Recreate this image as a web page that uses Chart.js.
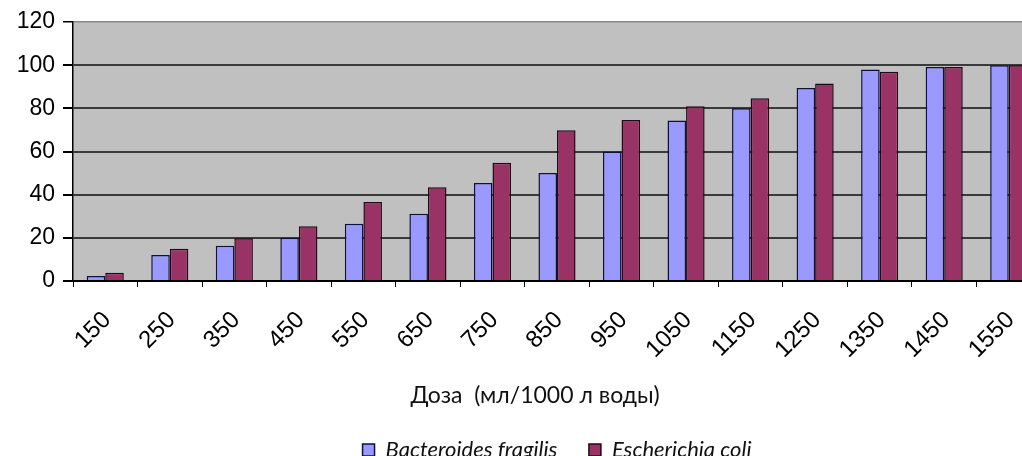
<!DOCTYPE html>
<html>
<head>
<meta charset="utf-8">
<script src="https://cdn.jsdelivr.net/npm/chart.js@4.4.0/dist/chart.umd.min.js"></script>
<style>
  html, body { margin: 0; padding: 0; background: #fff; overflow: hidden; }
</style>
</head>
<body>
<canvas id="chart" width="1070" height="471"></canvas>
<script>
// Dose, ml per 1000 l of water
const doses = ['150', '250', '350', '450', '550', '650', '750', '850', '950', '1050', '1150', '1250', '1350', '1450', '1550'];
const bacteroides = [2.3, 12, 16.3, 20, 26.5, 31.2, 45.4, 50, 60, 74.4, 80, 89.4, 98, 99.2, 100];
const ecoli = [3.8, 15, 19.8, 25.4, 36.6, 43.4, 54.8, 69.8, 74.6, 81, 84.7, 91.5, 96.9, 99.2, 100];
const yMin = 0;
const yMax = 120;
const yStep = 20;

// grey plot area like the old Excel charts
const plotBackground = {
  id: 'plotBackground',
  beforeDraw(chart) {
    const { ctx, chartArea: a } = chart;
    ctx.save();
    ctx.fillStyle = '#c0c0c0';
    ctx.fillRect(a.left, a.top, a.right - a.left, a.bottom - a.top);
    ctx.restore();
  }
};

const ctx = document.getElementById('chart').getContext('2d');

new Chart(ctx, {
  type: 'bar',
  data: {
    labels: doses,
    datasets: [
      {
        label: 'Bacteroides fragilis',
        data: bacteroides,
        backgroundColor: '#9999ff',
        borderColor: '#10103a',
        borderWidth: 1.5,
        categoryPercentage: 0.575,
        barPercentage: 1
      },
      {
        label: 'Escherichia coli',
        data: ecoli,
        backgroundColor: '#993366',
        borderColor: '#200818',
        borderWidth: 1.5,
        categoryPercentage: 0.575,
        barPercentage: 1
      }
    ]
  },
  options: {
    responsive: false,
    animation: false,
    layout: {
      padding: { top: 22, right: 0, left: 0, bottom: 0 }
    },
    plugins: {
      tooltip: { enabled: false },
      title: {
        display: true,
        position: 'bottom',
        weight: 500,
        fullSize: true,
        text: 'Доза  (мл/1000 л воды)',
        color: '#111',
        font: { family: 'Lato, "Noto Sans", sans-serif', size: 23, weight: 'normal', lineHeight: 1 },
        padding: { top: 25.5, bottom: 0 }
      },
      legend: {
        position: 'bottom',
        fullSize: false,
        labels: {
          color: '#111',
          font: { family: 'Lato, "Noto Sans", sans-serif', size: 22, style: 'italic' },
          boxWidth: 12,
          boxHeight: 12,
          padding: 31.5
        }
      }
    },
    scales: {
      x: {
        afterFit(scale) { scale.height = 78; },
        border: { color: '#000', width: 2 },
        grid: {
          offset: true,
          drawOnChartArea: false,
          drawTicks: true,
          tickLength: 6,
          tickColor: '#000'
        },
        ticks: {
          autoSkip: false,
          minRotation: 45,
          maxRotation: 45,
          labelOffset: 2,
          padding: 19,
          color: '#000',
          font: { family: '"Liberation Sans", Arial, sans-serif', size: 24 }
        }
      },
      y: {
        min: yMin,
        max: yMax,
        afterFit(scale) { scale.width = 73; },
        border: { color: '#000', width: 1.5 },
        grid: {
          color: c => (c.tick && c.tick.value === yMax ? '#8a8a8a' : '#3a3a3a'),
          lineWidth: c => (c.tick && c.tick.value === yMax ? 1.5 : 2),
          tickLength: 10,
          tickColor: '#000'
        },
        ticks: {
          stepSize: yStep,
          padding: 8,
          color: '#000',
          font: { family: '"Liberation Sans", Arial, sans-serif', size: 23 }
        }
      },
      // empty strip on the right: the plot runs past the visible edge
      yRight: {
        position: 'right',
        afterFit(scale) { scale.width = 29; },
        border: { display: false },
        grid: { display: false },
        ticks: { display: false }
      }
    }
  },
  plugins: [plotBackground]
});
</script>
</body>
</html>
